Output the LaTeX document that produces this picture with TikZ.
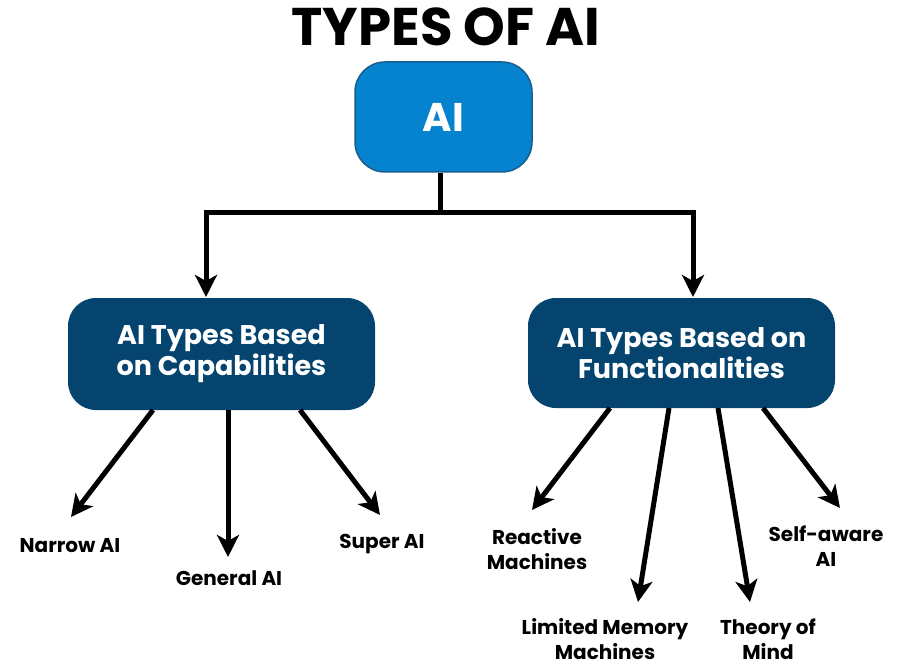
\documentclass[tikz,border=0pt]{standalone}
\usepackage{fontspec}
\setmainfont{Poppins}[BoldFont={* Bold}]
\usetikzlibrary{arrows.meta}
\definecolor{aiblue}{HTML}{0683CE}
\definecolor{aiedge}{HTML}{1A5C8E}
\definecolor{navy}{HTML}{04446F}
\begin{document}
\begin{tikzpicture}[x=1pt,y=-1pt,
  topbox/.style={draw=aiedge,line width=1.5pt,fill=aiblue,rounded corners=30pt,text=white,font=\bfseries\fontsize{40}{44}\selectfont,inner sep=0pt},
  catbox/.style={fill=navy,rounded corners=28pt,text=white,align=center,font=\bfseries\fontsize{27}{31}\selectfont,inner sep=0pt,minimum width=307pt},
  leaf/.style={align=center,font=\bfseries\fontsize{20}{24.5}\selectfont,inner sep=0pt},
  conn/.style={line width=5pt},
  arr/.style={line width=5pt,-{Stealth[length=22pt,width=22pt,inset=6pt]}}]
\useasboundingbox (0,0) rectangle (906,666);
\node[font=\bfseries\fontsize{53}{56}\selectfont] (title) at (446,27) {TYPES OF AI};
\node[topbox,minimum width=177pt,minimum height=110pt] (ai) at (443.5,117) {AI};
\node[catbox,minimum height=112pt] (cap) at (221.5,354) {AI Types Based\\on Capabilities};
\node[catbox,minimum height=110pt] (fun) at (681.5,353) {AI Types Based on\\Functionalities};
% leaves
\node[leaf] (narrow) at (70,546) {Narrow AI};
\node[leaf] (general) at (229,578) {General AI};
\node[leaf] (super) at (382,544) {Super AI};
\node[leaf] (react) at (537,549) {Reactive\\Machines};
\node[leaf] (limit) at (605,639) {Limited Memory\\Machines};
\node[leaf] (theory) at (768,639) {Theory of\\Mind};
\node[leaf] (self) at (826,546) {Self-aware\\AI};
% top connectors
\coordinate (j) at (440,213);
\coordinate (capin) at (206,297);
\coordinate (funin) at (693,297);
\draw[conn] (ai.south -| j) -- (j);
\draw[conn,line cap=rect] (j) -- (j -| capin);
\draw[conn,line cap=rect] (j) -- (j -| funin);
\draw[arr] (j -| capin) -- (capin);
\draw[arr] (j -| funin) -- (funin);
% capability arrows
\coordinate (c1) at (153,410); \coordinate (t1) at (71,517);
\coordinate (c2) at (228,410); \coordinate (t2) at (228,557);
\coordinate (c3) at (300,410); \coordinate (t3) at (380,515);
\draw[arr] (c1) -- (t1);
\draw[arr] (c2) -- (t2);
\draw[arr] (c3) -- (t3);
% functionality arrows
\coordinate (f1) at (610,408); \coordinate (u1) at (532,510);
\coordinate (f2) at (669,408); \coordinate (u2) at (638,602);
\coordinate (f3) at (718,408); \coordinate (u3) at (750,602);
\coordinate (f4) at (763,408); \coordinate (u4) at (840,508);
\draw[arr] (f1) -- (u1);
\draw[arr] (f2) -- (u2);
\draw[arr] (f3) -- (u3);
\draw[arr] (f4) -- (u4);
\end{tikzpicture}
\end{document}
